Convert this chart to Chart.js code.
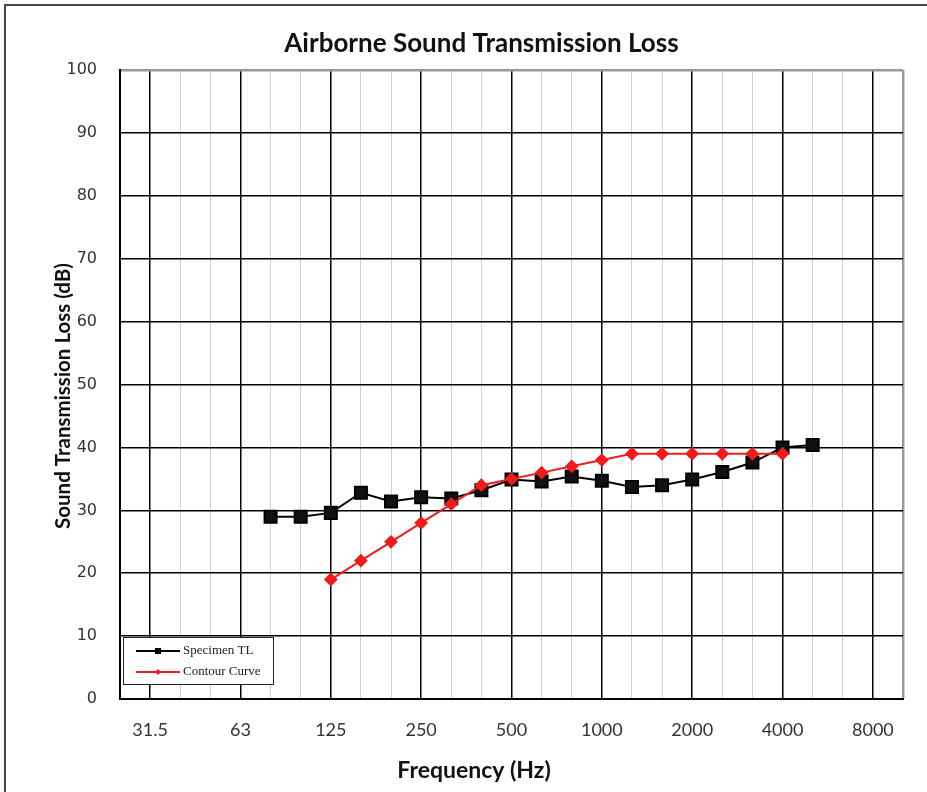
<!DOCTYPE html>
<html>
<head>
<meta charset="utf-8">
<title>Airborne Sound Transmission Loss</title>
<script src="https://cdn.jsdelivr.net/npm/chart.js@4.4.0/dist/chart.umd.min.js"></script>
<style>
  body { margin: 0; background: #fff; }
  #wrap { width: 927px; height: 792px; }
</style>
</head>
<body>
<div id="wrap"><canvas id="stlChart" width="927" height="792"></canvas></div>
<script>
// 1/3 octave band centre frequencies (Hz)
var bands = ['25', '31.5', '40', '50', '63', '80', '100', '125', '160', '200', '250', '315', '400',
             '500', '630', '800', '1000', '1250', '1600', '2000', '2500', '3150', '4000', '5000',
             '6300', '8000', '10000'];
// octave bands that get a label and a dark grid line
var octaveLabels = ['31.5', '63', '125', '250', '500', '1000', '2000', '4000', '8000'];

// measured TL, 80 Hz - 5000 Hz
var specimenTL = [null, null, null, null, null,
                  29.0, 29.0, 29.6, 32.8, 31.4, 32.1, 31.9, 33.2,
                  34.9, 34.6, 35.4, 34.7, 33.7, 34.0, 34.9, 36.1, 37.6, 40.0, 40.4,
                  null, null, null];
// STC reference contour, 125 Hz - 4000 Hz
var contour = [null, null, null, null, null, null, null,
               19, 22, 25, 28, 31, 34, 35, 36, 37, 38, 39, 39, 39, 39, 39, 39,
               null, null, null, null];

var ctx = document.getElementById('stlChart').getContext('2d');

// frame, axis titles and the boxed legend inside the plot
var extras = {
    id: 'extras',
    afterDraw: function(chart) {
        var c = chart.ctx;
        var a = chart.chartArea;
        c.save();
        // page frame (top + left only)
        c.strokeStyle = '#444';
        c.lineWidth = 2;
        c.beginPath();
        c.moveTo(5, 792);
        c.lineTo(5, 5);
        c.lineTo(927, 5);
        c.stroke();

        // axis titles
        c.fillStyle = '#111';
        c.textAlign = 'center';
        c.textBaseline = 'middle';
        c.font = 'bold 23px Lato';
        c.fillText('Frequency (Hz)', 474, 771);
        c.font = 'bold 20.5px Lato';
        c.translate(63, 396);
        c.rotate(-Math.PI / 2);
        c.fillText('Sound Transmission Loss (dB)', 0, 0);
        c.restore();

        // legend box
        c.save();
        var bx = a.left + 3, by = a.bottom - 62, bw = 150, bh = 47;
        c.fillStyle = '#fff';
        c.fillRect(bx, by, bw, bh);
        c.strokeStyle = '#222';
        c.lineWidth = 1;
        c.strokeRect(bx + 0.5, by + 0.5, bw, bh);
        chart.data.datasets.forEach(function(ds, i) {
            var ly = by + 14 + i * 21;
            c.strokeStyle = ds.borderColor;
            c.lineWidth = 2;
            c.beginPath();
            c.moveTo(bx + 13, ly);
            c.lineTo(bx + 57, ly);
            c.stroke();
            c.fillStyle = ds.backgroundColor;
            c.beginPath();
            if (ds.pointStyle === 'rect') {
                c.rect(bx + 32, ly - 3, 6, 6);
            } else {
                c.moveTo(bx + 35, ly - 3);
                c.lineTo(bx + 38, ly);
                c.lineTo(bx + 35, ly + 3);
                c.lineTo(bx + 32, ly);
                c.closePath();
            }
            c.fill();
            c.fillStyle = '#222';
            c.font = '13px "Liberation Serif"';
            c.textAlign = 'left';
            c.textBaseline = 'middle';
            c.fillText(ds.label, bx + 60, ly);
        });
        c.restore();
    }
};

var chart = new Chart(ctx, {
    type: 'line',
    data: {
        labels: bands,
        datasets: [{
            label: 'Specimen TL',
            data: specimenTL,
            borderColor: '#000',
            backgroundColor: '#000',
            borderWidth: 2,
            pointStyle: 'rect',
            pointRadius: 8.5,
            pointHoverRadius: 8.5,
            pointBorderColor: '#000',
            pointBackgroundColor: '#111',
            order: 1
        }, {
            label: 'Contour Curve',
            data: contour,
            borderColor: '#ee1c1c',
            backgroundColor: '#ee1c1c',
            borderWidth: 2,
            pointStyle: 'rectRot',
            pointRadius: 5.5,
            pointHoverRadius: 5.5,
            pointBorderColor: '#ee1c1c',
            pointBackgroundColor: '#f21a1a',
            order: 0
        }]
    },
    options: {
        responsive: false,
        animation: false,
        layout: { padding: { left: 60, right: 24, top: 10, bottom: 0 } },
        plugins: {
            legend: { display: false },
            tooltip: { enabled: false },
            title: {
                display: true,
                text: 'Airborne Sound Transmission Loss',
                color: '#111',
                font: { family: 'Lato', size: 26, weight: 'bold' },
                padding: { top: 18, bottom: 11 }
            }
        },
        scales: {
            x: {
                type: 'category',
                offset: false,
                grid: {
                    drawTicks: false,
                    color: function(c) {
                        if (c.index === bands.length - 1) return '#999';
                        return octaveLabels.indexOf(bands[c.index]) >= 0 ? '#000' : '#cfcfcf';
                    },
                    lineWidth: function(c) {
                        if (c.index === bands.length - 1) return 2.5;
                        return octaveLabels.indexOf(bands[c.index]) >= 0 ? 1.5 : 1;
                    }
                },
                border: { color: '#000', width: 2 },
                ticks: {
                    autoSkip: false,
                    maxRotation: 0,
                    padding: 20,
                    color: '#333',
                    font: { family: 'Lato', size: 18 },
                    callback: function(v, i) {
                        return octaveLabels.indexOf(bands[i]) >= 0 ? bands[i] : '';
                    }
                },
                afterFit: function(s) { s.height = 93; }
            },
            y: {
                min: 0,
                max: 100,
                grid: {
                    drawTicks: false,
                    color: function(c) { return c.tick.value === 100 ? '#999' : '#000'; },
                    lineWidth: function(c) { return c.tick.value === 100 ? 2.5 : 1.5; }
                },
                border: { color: '#000', width: 2 },
                ticks: {
                    stepSize: 10,
                    padding: 23,
                    color: '#333',
                    font: { family: 'DejaVu Sans', size: 16 }
                },
                afterFit: function(s) { s.width = 60; }
            }
        }
    },
    plugins: [extras]
});
</script>
</body>
</html>
